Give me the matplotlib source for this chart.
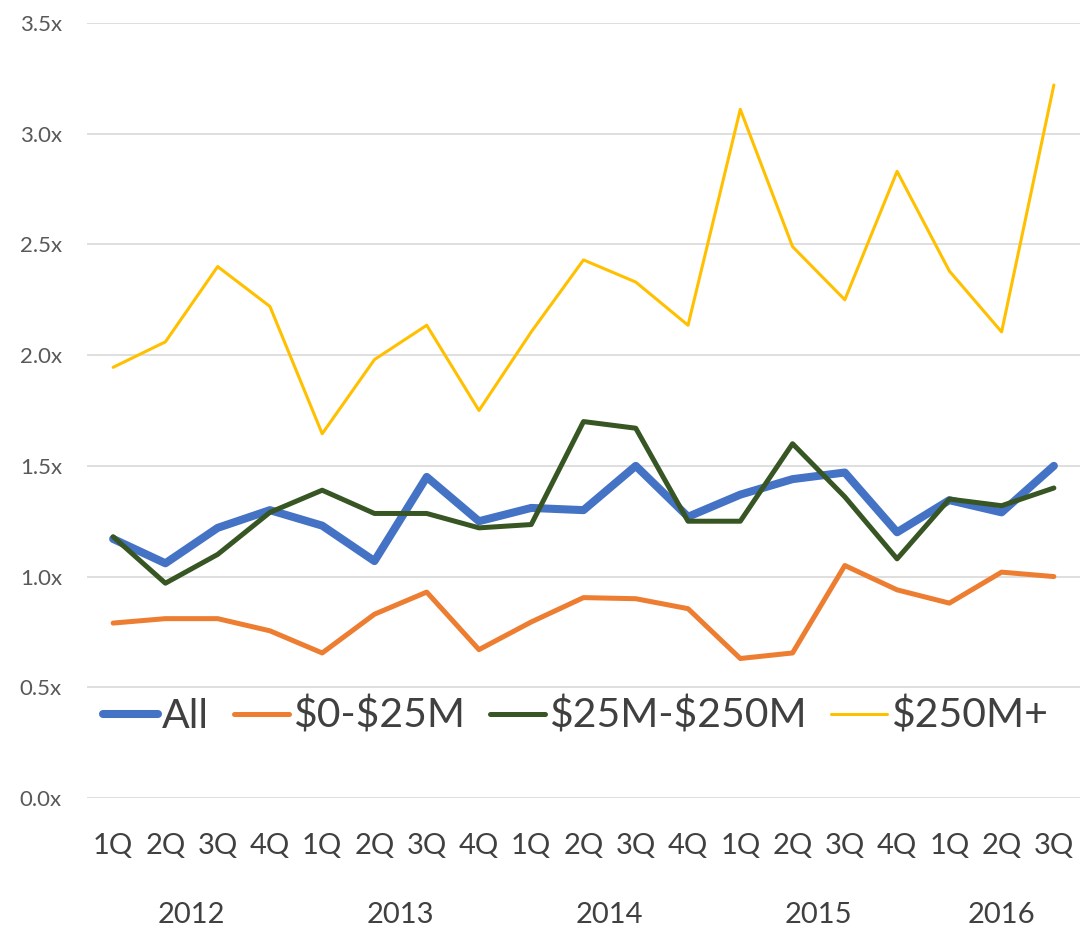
import matplotlib.pyplot as plt

quarters = ['1Q', '2Q', '3Q', '4Q'] * 4 + ['1Q', '2Q', '3Q']
years = ['2012', '2013', '2014', '2015', '2016']

all_deals = [1.17, 1.06, 1.22, 1.30, 1.23, 1.07, 1.45, 1.25, 1.31, 1.30,
             1.50, 1.27, 1.37, 1.44, 1.47, 1.20, 1.345, 1.29, 1.50]
small = [0.79, 0.81, 0.81, 0.755, 0.655, 0.83, 0.93, 0.67, 0.795, 0.905,
         0.90, 0.855, 0.63, 0.655, 1.05, 0.94, 0.88, 1.02, 1.00]
mid = [1.18, 0.97, 1.10, 1.29, 1.39, 1.285, 1.285, 1.22, 1.235, 1.70,
       1.67, 1.25, 1.25, 1.60, 1.36, 1.08, 1.35, 1.32, 1.40]
large = [1.945, 2.06, 2.40, 2.22, 1.645, 1.98, 2.135, 1.75, 2.105, 2.43,
         2.33, 2.135, 3.11, 2.49, 2.25, 2.83, 2.38, 2.105, 3.22]

plt.rcParams['font.family'] = ['Lato', 'DejaVu Sans']
plt.rcParams['text.parse_math'] = False

fig = plt.figure(figsize=(10.81, 9.32), dpi=100)
ax = fig.add_axes([87 / 1081, 1 - 798 / 932, 993 / 1081, 775 / 932])

x = range(len(quarters))
ax.plot(x, all_deals, color='#4472C4', lw=5.8, label='All', solid_capstyle='round', solid_joinstyle='round')
ax.plot(x, small, color='#ED7D31', lw=3.6, label='$0-$25M', solid_capstyle='round', solid_joinstyle='round')
ax.plot(x, mid, color='#375623', lw=3.6, label='$25M-$250M', solid_capstyle='round', solid_joinstyle='round')
ax.plot(x, large, color='#FFC000', lw=2.2, label='$250M+', solid_capstyle='round', solid_joinstyle='round')

ax.set_xlim(-0.5, len(quarters) - 0.5)
ax.set_ylim(0, 3.5)
ax.set_yticks([i * 0.5 for i in range(8)])
ax.set_yticklabels([f'{i * 0.5:.1f}x' for i in range(8)], color='#595959', fontsize=16)
ax.set_xticks(list(x))
ax.set_xticklabels(quarters, fontsize=21, color='#404040')
ax.tick_params(axis='y', length=0, pad=18)
ax.tick_params(axis='x', length=0, pad=25)
ax.grid(axis='y', color='#D9D9D9', lw=1.2)
ax.set_axisbelow(True)
for s in ax.spines.values():
    s.set_visible(False)

# year labels under the quarters
for i, yr in enumerate(years):
    n = 4 if i < 4 else 3
    start = i * 4
    ax.text(start + (n - 1) / 2, -0.53, yr, ha='center', va='center',
            fontsize=21, color='#404040')

ax.legend(loc='center left', bbox_to_anchor=(0.016, 0.106), ncol=4, frameon=False,
          fontsize=29.5, handlelength=1.35, handletextpad=0.1,
          columnspacing=0.6, borderaxespad=0, borderpad=0, labelcolor='#404040')

fig.savefig('out.png', dpi=100)
